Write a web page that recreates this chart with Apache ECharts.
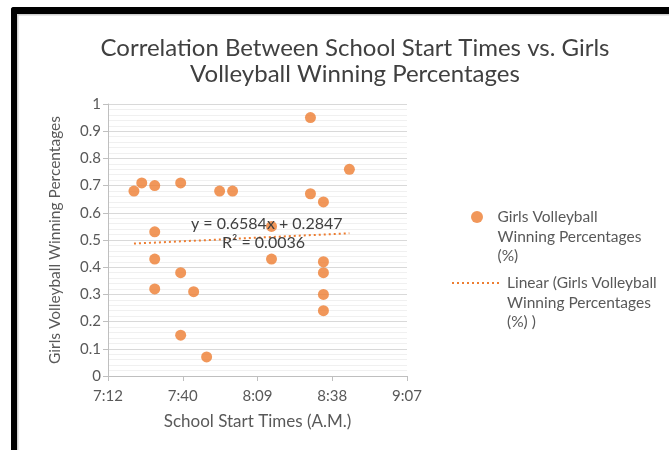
<!DOCTYPE html>
<html><head><meta charset="utf-8">
<script src="https://cdn.jsdelivr.net/npm/echarts@6/dist/echarts.min.js"></script>
<style>html,body{margin:0;padding:0;background:#fff}#c{width:669px;height:450px}</style>
</head><body><div id="c"></div>
<script>
// Data
const startTimes = ['7:22','7:25','7:30','7:40','7:55','8:00','8:30','8:45','8:30','8:35','7:30','8:15',
                    '7:30','8:15','8:35','7:40','8:35','7:30','7:45','8:35','8:35','7:40','7:50'];
const winPct     = [0.68, 0.71, 0.70, 0.71, 0.68, 0.68, 0.95, 0.76, 0.67, 0.64, 0.53, 0.55,
                    0.43, 0.43, 0.42, 0.38, 0.38, 0.32, 0.31, 0.30, 0.24, 0.15, 0.07];
const trendCoef  = [0.6584, 0.2847];          // y = a*x + b, x in fraction of day
const trendRange = ['7:22', '8:45'];
const xTickLabels = ['7:12','7:40','8:09','8:38','9:07'];
const yTickLabels = ['0','0.1','0.2','0.3','0.4','0.5','0.6','0.7','0.8','0.9','1'];

const toSec = t => { const [h, m] = t.split(':').map(Number); return h*3600 + m*60; };

const scatterData = startTimes.map((t, i) => [toSec(t), winPct[i]]);
const trendData = trendRange.map(t => { const s = toSec(t); return [s, trendCoef[0]*s/86400 + trendCoef[1]]; });

const FONT = 'Lato';
const ORANGE = '#ED7D31';
const chart = echarts.init(document.getElementById('c'), null, {renderer: 'canvas'});
const NAME1 = 'Girls Volleyball Winning Percentages (%)';
const NAME2 = 'Linear (Girls Volleyball Winning Percentages (%) )';
const LEG = {
  [NAME1]: '\n\nGirls Volleyball\nWinning Percentages\n(%)',
  [NAME2]: '\n\nLinear (Girls Volleyball\nWinning Percentages\n(%) )'
};
const legendBase = {
  orient: 'vertical', padding: 0, itemHeight: 12, itemGap: 0,
  formatter: n => LEG[n],
  textStyle: {fontFamily: FONT, fontSize: 15.5, color: '#595959', lineHeight: 19.5}
};
chart.setOption({
  animation: false,
  backgroundColor: '#fff',
  title: {
    text: 'Correlation Between School Start Times vs. Girls\nVolleyball Winning Percentages',
    left: 350, top: 30, textAlign: 'center',
    textStyle: {fontFamily: FONT, fontSize: 24, fontWeight: 'normal', color: '#404040', lineHeight: 26}
  },
  legend: [
    Object.assign({}, legendBase, {left: 471, top: 217 - 48.75, itemWidth: 31,
      data: [{name: NAME1, icon: 'circle'}]}),
    Object.assign({}, legendBase, {left: 451, top: 283 - 48.75, itemWidth: 50,
      data: [{name: NAME2, itemStyle: {opacity: 0}}]})
  ],
  grid: {left: 108, right: 262, top: 104, bottom: 74},
  xAxis: {
    type: 'value', min: toSec('7:12'), max: toSec('7:12') + 4*1728, interval: 1728,
    name: 'School Start Times (A.M.)', nameLocation: 'middle', nameGap: 37,
    nameTextStyle: {fontFamily: FONT, fontSize: 17, color: '#595959'},
    axisLine: {show: true, lineStyle: {color: '#bfbfbf'}},
    axisTick: {show: true, length: 5, lineStyle: {color: '#bfbfbf'}},
    axisLabel: {fontFamily: FONT, fontSize: 15, color: '#595959', margin: 13,
      formatter: v => xTickLabels[Math.round((v - toSec('7:12'))/1728)]},
    splitLine: {show: false}
  },
  yAxis: {
    type: 'value', min: 0, max: 1, interval: 0.1,
    name: 'Girls Volleyball Winning Percentages', nameLocation: 'middle', nameGap: 45,
    nameTextStyle: {fontFamily: FONT, fontSize: 15.5, color: '#595959'},
    axisLine: {show: true, lineStyle: {color: '#bfbfbf'}},
    axisTick: {show: true, length: 5, lineStyle: {color: '#bfbfbf'}},
    axisLabel: {fontFamily: FONT, fontSize: 15, color: '#595959', margin: 7,
      formatter: v => yTickLabels[Math.round(v*10)]},
    splitLine: {show: true, lineStyle: {color: '#d9d9d9'}},
    minorTick: {show: false, splitNumber: 5},
    minorSplitLine: {show: true, lineStyle: {color: '#f0f0f0'}}
  },
  series: [
    {name: NAME1, type: 'scatter', data: scatterData, symbol: 'circle', symbolSize: 11,
     itemStyle: {color: ORANGE}, z: 3},
    {name: NAME2, type: 'line', data: trendData, symbol: 'none', z: 2,
     lineStyle: {color: ORANGE, width: 2, type: [2, 3]}, itemStyle: {color: ORANGE}}
  ],
  graphic: [
    {type: 'rect', left: 11, top: 7, shape: {width: 660, height: 7, r: [3,0,0,0]}, style: {fill: '#000'}, z: 10},
    {type: 'rect', left: 11, top: 7, shape: {width: 6, height: 445, r: [3,0,0,0]}, style: {fill: '#000'}, z: 10},
    {type: 'rect', left: 17, top: 14, shape: {width: 660, height: 1.5}, style: {fill: '#d0d0d0'}, z: 10},
    {type: 'rect', left: 17, top: 14, shape: {width: 1.5, height: 440}, style: {fill: '#d0d0d0'}, z: 10},
    {type: 'text', left: 191, top: 216, style: {text: 'y = 0.6584x + 0.2847', fontFamily: FONT, fontSize: 16, fill: '#404040'}, z: 5},
    {type: 'text', left: 222, top: 235, style: {text: 'R² = 0.0036', fontFamily: FONT, fontSize: 16, fill: '#404040'}, z: 5}
  ]
});
</script></body></html>
